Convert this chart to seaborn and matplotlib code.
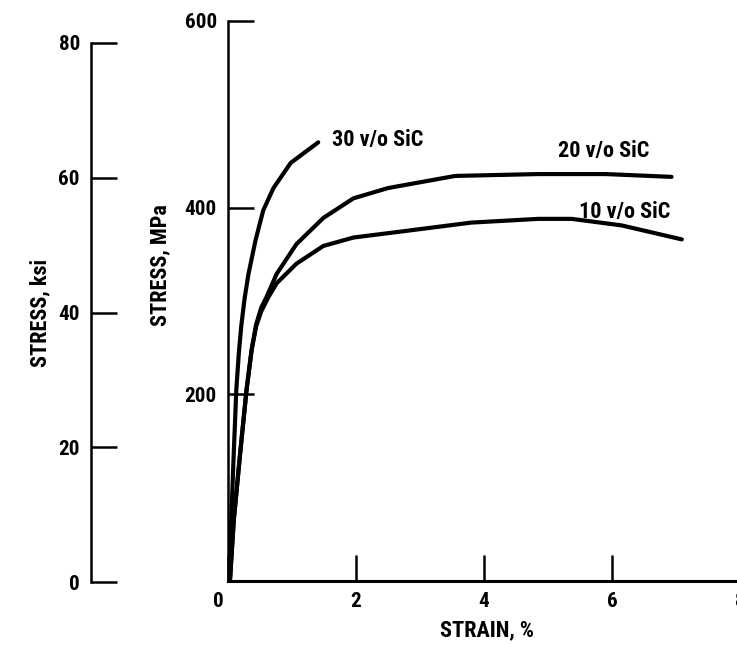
import pandas as pd
import matplotlib
matplotlib.use("Agg")
import matplotlib.pyplot as plt
import matplotlib.transforms as mtransforms
from matplotlib import font_manager
import seaborn as sns

# stress-strain curves (strain in %, stress in MPa)
strain_30 = [0.03, 0.05, 0.09, 0.13, 0.17, 0.21, 0.26, 0.32, 0.43, 0.55, 0.71, 0.98, 1.41]
stress_30 = [0, 65, 137, 205, 245, 275, 303, 329, 365, 397, 421, 448, 470]

strain_20 = [0.03, 0.09, 0.19, 0.29, 0.37, 0.44, 0.52, 0.60, 0.76, 1.07, 1.49, 1.96, 2.5, 3.55, 4.85, 5.9, 6.93]
stress_20 = [0, 65, 137, 205, 248, 275, 293, 304, 329, 361, 389, 410, 421, 434, 436, 436, 433]

strain_10 = [0.03, 0.09, 0.19, 0.29, 0.37, 0.44, 0.52, 0.63, 0.76, 1.07, 1.49, 1.96, 2.77, 3.8, 4.85, 5.37, 6.15, 7.09]
stress_10 = [0, 65, 137, 205, 248, 273, 289, 304, 319, 340, 359, 368, 375, 384, 388, 388, 381, 366]

series_names = ["30 v/o SiC", "20 v/o SiC", "10 v/o SiC"]
label_pos = [(1.62, 472), (5.16, 461), (5.48, 395)]

x_ticks = [0, 2, 4, 6, 8]
mpa_ticks = [200, 400, 600]
ksi_ticks = [0, 20, 40, 60, 80]

frames = []
for name, xs, ys in zip(series_names,
                        [strain_30, strain_20, strain_10],
                        [stress_30, stress_20, stress_10]):
    frames.append(pd.DataFrame({"strain": xs, "stress": ys, "series": name}))
df = pd.concat(frames, ignore_index=True)

sns.set_style("white")

# the original uses a narrow, bold lettering; take the narrowest face installed
installed = {f.name for f in font_manager.fontManager.ttflist}
family = "Liberation Sans"
for cand in ["Liberation Sans Narrow", "DejaVu Sans Condensed",
             "Noto Sans Condensed", "Roboto Condensed", "Open Sans Condensed"]:
    if cand in installed:
        family = cand
        break
plt.rcParams["font.family"] = [family, "DejaVu Sans"]
plt.rcParams["font.weight"] = "bold"
plt.rcParams["text.color"] = "black"

W, H = 737, 645
fig = plt.figure(figsize=(W / 100, H / 100), dpi=100)
renderer = fig.canvas.get_renderer()


def fit_size(s, target_px, max_pt):
    t = fig.text(0, 0, s, fontsize=10, fontweight="bold")
    w = t.get_window_extent(renderer).width
    t.remove()
    return min(10 * target_px / w, max_pt)


tick_fs = fit_size("600", 32, 16)
series_fs = fit_size("30 v/o SiC", 92, 16)
label_fs = fit_size("STRAIN, %", 108, 16)

# main MPa axes
ax = fig.add_axes([228 / W, 64 / H, (740 - 228) / W, 560 / H])
sns.lineplot(data=df, x="strain", y="stress", hue="series", units="series",
             estimator=None, sort=False, palette=["black"] * 3,
             linewidth=3.0, legend=False, ax=ax)
ax.set_xlim(0, 8)
ax.set_ylim(0, 600)
ax.set_xticks(x_ticks)
ax.set_xticklabels([str(t) for t in x_ticks])
ax.set_yticks(mpa_ticks)
ax.set_yticklabels([str(t) for t in mpa_ticks])
ax.tick_params(axis="both", direction="in", length=19, width=1.8,
               labelsize=tick_fs, pad=8, colors="black",
               bottom=True, left=True)
for side in ["top", "right"]:
    ax.spines[side].set_visible(False)
ax.spines["left"].set_linewidth(1.8)
ax.spines["bottom"].set_linewidth(2.2)
ax.spines["left"].set_color("black")
ax.spines["bottom"].set_color("black")
ax.patch.set_visible(False)
ax.set_xlabel("")
ax.set_ylabel("")

# shift the shared "0" a little to the left, as in the original
zero_lbl = ax.get_xticklabels()[0]
zero_lbl.set_transform(zero_lbl.get_transform() +
                       mtransforms.ScaledTranslation(-0.10, 0, fig.dpi_scale_trans))

for name, (lx, ly) in zip(series_names, label_pos):
    ax.text(lx, ly, name, fontsize=series_fs, fontweight="bold",
            ha="left", va="center", color="black")

# ksi axis on the left
ax2 = fig.add_axes([91 / W, 63 / H, 0.05, (582 - 43) / H])
ax2.set_ylim(0, 80)
ax2.set_yticks(ksi_ticks)
ax2.set_yticklabels([str(t) for t in ksi_ticks])
ax2.set_xticks([])
ax2.tick_params(axis="y", direction="in", length=19, width=1.8,
                labelsize=tick_fs, pad=8, colors="black", left=True)
for side in ["top", "right", "bottom"]:
    ax2.spines[side].set_visible(False)
ax2.spines["left"].set_linewidth(1.8)
ax2.spines["left"].set_color("black")
ax2.patch.set_visible(False)

# axis titles
fig.text(487 / W, 1 - 630 / H, "STRAIN, %", fontsize=label_fs,
         fontweight="bold", ha="center", va="center")
fig.text(160 / W, 1 - 265 / H, "STRESS, MPa", fontsize=label_fs,
         fontweight="bold", ha="center", va="center", rotation=90)
fig.text(40 / W, 1 - 313 / H, "STRESS, ksi", fontsize=label_fs,
         fontweight="bold", ha="center", va="center", rotation=90)

fig.savefig("out.png", dpi=100)
